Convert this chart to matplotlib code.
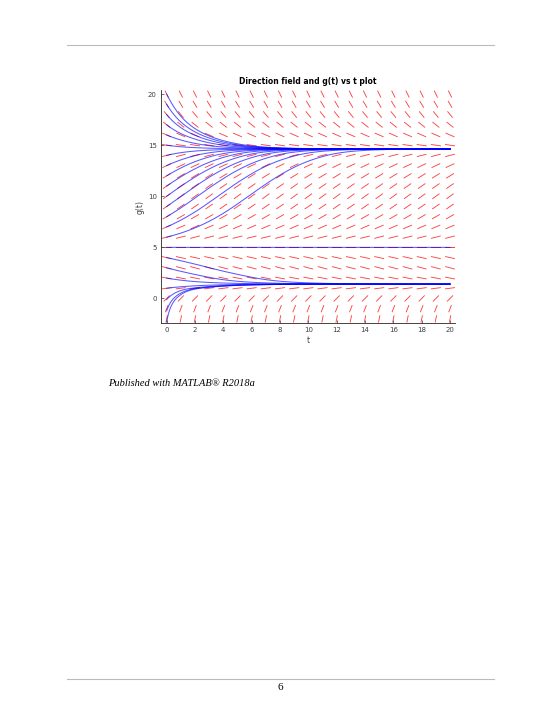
import numpy as np
import matplotlib.pyplot as plt

g_rows = list(range(-2, 21))
slopes = [7.0, 3.5, 1.4, 0.18, -0.26, -0.36, -0.3, 0.0, 0.35, 0.6, 0.8, 0.95,
          1.0, 0.95, 0.85, 0.65, 0.35, -0.2, -0.6, -1.1, -1.7, -2.3, -2.8]
t_cols = list(range(0, 21))
# starting values of the blue solution curves
g_start = [-2.3, -1.2, -0.1, 1, 2, 3, 4, 5, 6, 7, 8, 9, 10, 11, 12, 13, 14,
           15, 16, 17, 18, 19, 20]

seg_len = 0.72


def rate(g):
    return np.interp(g, g_rows, slopes)


def solve(g0, t_end=20.0, dt=0.01):
    ts = np.arange(0, t_end + dt / 2, dt)
    gs = [g0]
    g = g0
    for _ in ts[1:]:
        k1 = rate(g)
        k2 = rate(g + dt / 2 * k1)
        k3 = rate(g + dt / 2 * k2)
        k4 = rate(g + dt * k3)
        g = g + dt / 6 * (k1 + 2 * k2 + 2 * k3 + k4)
        gs.append(g)
    return ts, np.array(gs)


fig = plt.figure(figsize=(5.6, 7.25), dpi=100)

# page decorations
fig.add_artist(plt.Line2D([67 / 560, 494 / 560], [1 - 45 / 725] * 2, color="#bbbbbb", lw=0.8))
fig.add_artist(plt.Line2D([67 / 560, 494 / 560], [1 - 679 / 725] * 2, color="#bbbbbb", lw=0.8))
fig.text(280 / 560, 1 - 688 / 725, "6", ha="center", va="center", family="Liberation Serif", fontsize=8)
fig.text(108 / 560, 1 - 384 / 725, "Published with MATLAB® R2018a", ha="left", va="center",
         family="Liberation Serif", style="italic", fontsize=7.5)

ax = fig.add_axes([161 / 560, 1 - 323 / 725, (455 - 161) / 560, (323 - 90) / 725])

T, G = np.meshgrid(t_cols, g_rows)
S = np.tile(np.array(slopes)[:, None], (1, len(t_cols)))
norm = np.sqrt(1 + S ** 2)
U = seg_len / norm
V = seg_len * S / norm
ax.quiver(T, G, U, V, angles="xy", scale_units="xy", scale=1, pivot="middle",
          color="#ff4040", width=0.003, headwidth=0, headlength=0, headaxislength=0)

for g0 in g_start:
    ts, gs = solve(g0)
    ax.plot(ts, gs, color="#0000ff", lw=0.75, alpha=0.65)

ax.set_xlim(-0.4, 20.35)
ax.set_ylim(-2.4, 20.4)
ax.set_xticks(range(0, 21, 2))
ax.set_yticks(range(0, 21, 5))
for side in ["top", "right"]:
    ax.spines[side].set_visible(False)
for side in ["left", "bottom"]:
    ax.spines[side].set_color("#262626")
    ax.spines[side].set_linewidth(0.6)
ax.tick_params(direction="in", length=2.5, width=0.5, labelsize=5, colors="#404040", pad=3)
ax.set_title("Direction field and g(t) vs t plot", fontsize=5.5, fontweight="bold", pad=4)
ax.set_xlabel("t", fontsize=5.5, color="#404040", labelpad=2)
ax.set_ylabel("g(t)", fontsize=5.5, color="#404040", labelpad=2)

fig.savefig("out.png", dpi=100)
